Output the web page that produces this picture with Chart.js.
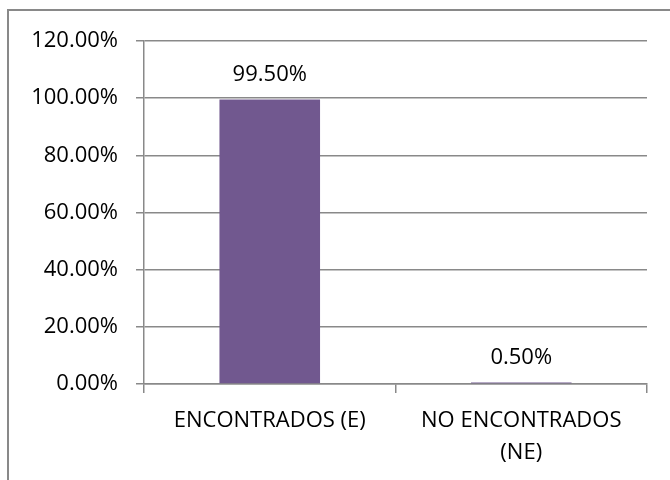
<!DOCTYPE html>
<html>
<head>
<meta charset="utf-8">
<script src="https://cdn.jsdelivr.net/npm/chart.js@4"></script>
<style>
  html, body { margin: 0; padding: 0; background: #fff; }
  #wrap { width: 670px; height: 480px; }
</style>
</head>
<body>
<div id="wrap"><canvas id="chart" width="670" height="480"></canvas></div>
<script>
// chart data
const categories = ["ENCONTRADOS (E)", ["NO ENCONTRADOS", "(NE)"]];
const values = [99.5, 0.5];
const valueLabels = ["99.50%", "0.50%"];
const yTicks = [0, 20, 40, 60, 80, 100, 120];

const FONT = "'Open Sans', sans-serif";
const GRID = "#898989";

// outer frame (only top and left edges are inside the picture)
const framePlugin = {
  id: "frame",
  beforeDraw(chart) {
    const ctx = chart.ctx;
    ctx.save();
    ctx.fillStyle = "#fff";
    ctx.fillRect(0, 0, chart.width, chart.height);
    ctx.strokeStyle = GRID;
    ctx.lineWidth = 2;
    ctx.beginPath();
    ctx.moveTo(8, 480);
    ctx.lineTo(8, 10);
    ctx.lineTo(670, 10);
    ctx.stroke();
    ctx.restore();
  }
};

// value labels above bars
const labelPlugin = {
  id: "valueLabels",
  afterDatasetsDraw(chart) {
    const ctx = chart.ctx;
    const meta = chart.getDatasetMeta(0);
    ctx.save();
    ctx.fillStyle = "#000";
    ctx.font = "22px " + FONT;
    ctx.textAlign = "center";
    ctx.textBaseline = "middle";
    meta.data.forEach((bar, i) => {
      ctx.fillText(valueLabels[i], bar.x, bar.y - 25);
    });
    ctx.restore();
  }
};

new Chart(document.getElementById("chart"), {
  type: "bar",
  data: {
    labels: categories,
    datasets: [{
      data: values,
      backgroundColor: "#71588F",
      borderWidth: 0,
      categoryPercentage: 0.4,
      barPercentage: 1.0
    }]
  },
  options: {
    responsive: false,
    animation: false,
    layout: { padding: { top: 41, right: 23, bottom: 0, left: 0 } },
    plugins: {
      legend: { display: false },
      tooltip: { enabled: false }
    },
    scales: {
      x: {
        offset: true,
        grid: {
          offset: true,
          drawOnChartArea: false,
          drawTicks: true,
          tickLength: 9,
          color: GRID,
          lineWidth: 1.5
        },
        border: { color: GRID, width: 1.5 },
        ticks: {
          color: "#000",
          font: { family: FONT, size: 22, lineHeight: 1.45 },
          padding: 12,
          maxRotation: 0,
          autoSkip: false
        },
        afterFit(scale) { scale.height = 96; }
      },
      y: {
        min: 0,
        max: 120,
        afterBuildTicks(scale) {
          scale.ticks = yTicks.map(v => ({ value: v }));
        },
        grid: {
          color: GRID,
          lineWidth: 1.5,
          drawTicks: true,
          tickLength: 8
        },
        border: { color: GRID, width: 1.5 },
        ticks: {
          color: "#000",
          font: { family: FONT, size: 22 },
          padding: 18,
          callback: v => v.toFixed(2) + "%"
        },
        afterFit(scale) { scale.width = 144; }
      }
    }
  },
  plugins: [framePlugin, labelPlugin]
});
</script>
</body>
</html>
